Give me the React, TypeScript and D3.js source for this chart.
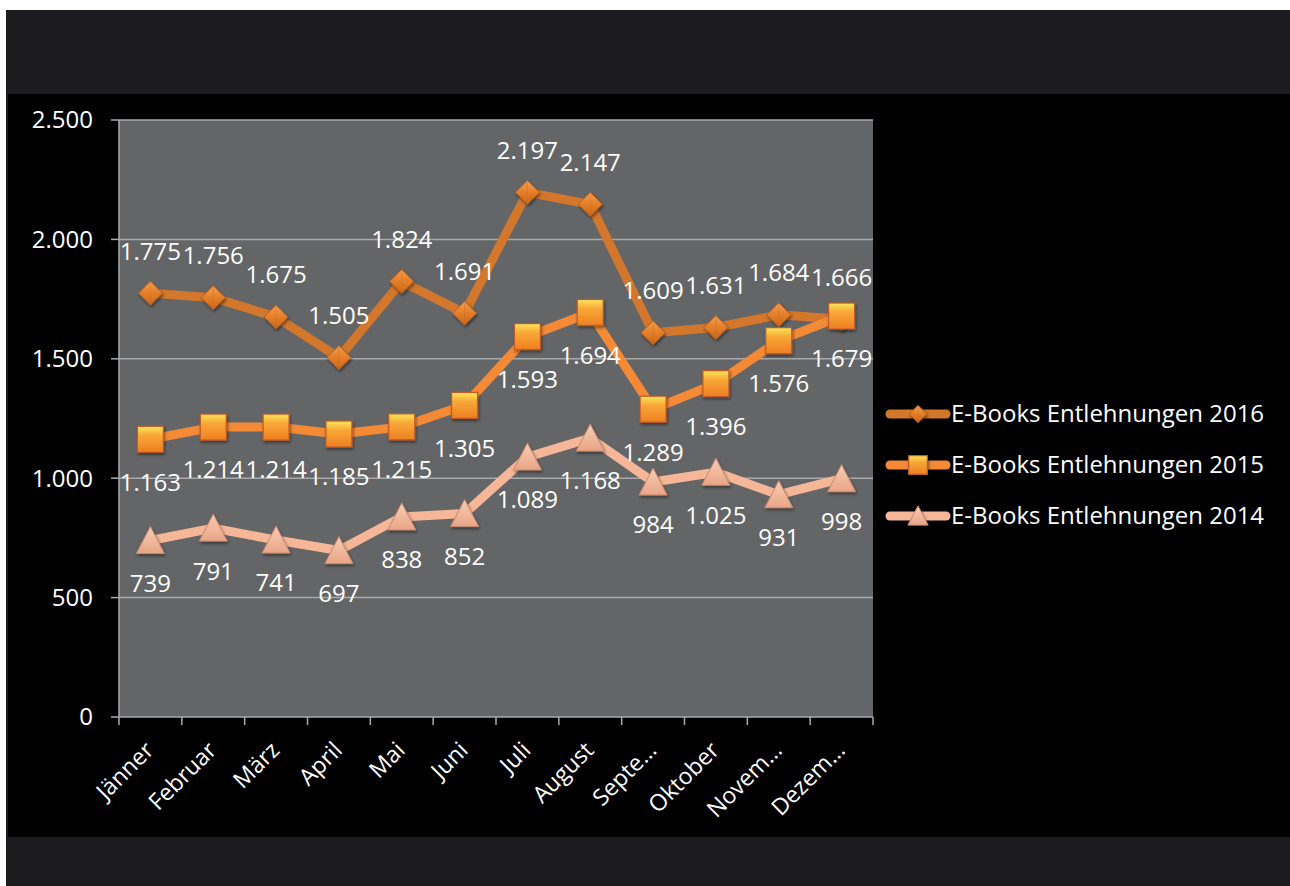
import React from "react";
import * as d3 from "d3";

const months = ["Jänner", "Februar", "März", "April", "Mai", "Juni", "Juli", "August", "Septe…", "Oktober", "Novem…", "Dezem…"];
const values2016 = [1775, 1756, 1675, 1505, 1824, 1691, 2197, 2147, 1609, 1631, 1684, 1666];
const values2015 = [1163, 1214, 1214, 1185, 1215, 1305, 1593, 1694, 1289, 1396, 1576, 1679];
const values2014 = [739, 791, 741, 697, 838, 852, 1089, 1168, 984, 1025, 931, 998];
const yTicks = [0, 500, 1000, 1500, 2000, 2500];
const seriesNames = ["E-Books Entlehnungen 2016", "E-Books Entlehnungen 2015", "E-Books Entlehnungen 2014"];

const W = 1290, H = 886;
const plot = { left: 119, right: 873, top: 120, bottom: 717 };
const FONT = "'Open Sans', 'DejaVu Sans', sans-serif";

const fmt = (v: number) => d3.format(",")(v).replace(/,/g, ".");

type Series = { name: string; values: number[]; color: string; marker: string; labelPos: "above" | "below" };

const series: Series[] = [
  { name: seriesNames[0], values: values2016, color: "#d2772b", marker: "diamond", labelPos: "above" },
  { name: seriesNames[1], values: values2015, color: "#f48a36", marker: "square", labelPos: "below" },
  { name: seriesNames[2], values: values2014, color: "#f5b797", marker: "triangle", labelPos: "below" },
];

function Marker({ kind, x, y, k = 1 }: { kind: string; x: number; y: number; k?: number }) {
  if (kind === "diamond") {
    const r = 12 * k;
    return (
      <g filter="url(#shadow)">
        <path d={`M${x},${y - r}L${x + r},${y}L${x},${y + r}L${x - r},${y}Z`} fill="url(#gDiamond)" stroke="#b85e1c" strokeWidth={1} />
        <path d={`M${x},${y - r}L${x},${y + r}`} stroke="#c76a22" strokeOpacity={0.4} strokeWidth={1} />
      </g>
    );
  }
  if (kind === "square") {
    const s = 13 * k;
    return (
      <g filter="url(#shadow)">
        <rect x={x - s} y={y - s} width={2 * s} height={2 * s} fill="url(#gSquare)" stroke="#c1592a" strokeWidth={1.2} />
      </g>
    );
  }
  const s = 14 * k;
  return (
    <g filter="url(#shadow)">
      <path d={`M${x},${y - s}L${x + s},${y + s - 1}L${x - s},${y + s - 1}Z`} fill="url(#gTri)" stroke="#c98a70" strokeWidth={1} />
    </g>
  );
}

export default function App() {
  const x = d3.scaleBand<string>().domain(months).range([plot.left, plot.right]).padding(0);
  const y = d3.scaleLinear().domain([0, 2500]).range([plot.bottom, plot.top]);
  const cx = (m: string) => (x(m) as number) + x.bandwidth() / 2;
  const line = d3.line<number>().x((_, i) => cx(months[i])).y((v) => y(v));
  const boundaries = d3.range(months.length + 1).map((i) => plot.left + i * x.bandwidth());

  return (
    <div style={{ position: "absolute", left: 0, top: 0 }}>
      <svg width={W} height={H} style={{ display: "block" }}>
        <defs>
          <linearGradient id="gDiamond" x1="0" y1="0" x2="0" y2="1">
            <stop offset="0" stopColor="#f3a050" />
            <stop offset="0.5" stopColor="#e47e28" />
            <stop offset="1" stopColor="#c9661c" />
          </linearGradient>
          <linearGradient id="gSquare" x1="0" y1="0" x2="0" y2="1">
            <stop offset="0" stopColor="#fbe55a" />
            <stop offset="0.35" stopColor="#f9a838" />
            <stop offset="1" stopColor="#ee7f22" />
          </linearGradient>
          <linearGradient id="gTri" x1="0" y1="0" x2="0" y2="1">
            <stop offset="0" stopColor="#f8cdb3" />
            <stop offset="1" stopColor="#e9a587" />
          </linearGradient>
          <filter id="shadow" x="-50%" y="-50%" width="200%" height="200%">
            <feDropShadow dx="1" dy="2" stdDeviation="1.5" floodColor="#000" floodOpacity="0.45" />
          </filter>
        </defs>
        <rect x={0} y={0} width={W} height={H} fill="#ffffff" />
        <rect x={6} y={10} width={W - 6} height={H - 10} fill="#1c1b1e" />
        <rect x={8} y={94} width={W - 8} height={837 - 94} fill="#000000" />

        <rect x={plot.left} y={plot.top} width={plot.right - plot.left} height={plot.bottom - plot.top} fill="#646567" />

        {yTicks.filter((t) => t > 0).map((t) => (
          <line key={t} x1={plot.left} x2={plot.right} y1={y(t)} y2={y(t)} stroke="#a9aaac" strokeWidth={1.5} />
        ))}
        <line x1={plot.left} x2={plot.left} y1={plot.top} y2={plot.bottom} stroke="#a9aaac" strokeWidth={1.5} />
        <line x1={plot.left} x2={plot.right} y1={plot.bottom} y2={plot.bottom} stroke="#a9aaac" strokeWidth={1.5} />
        {yTicks.map((t) => (
          <g key={t}>
            <line x1={plot.left - 8} x2={plot.left} y1={y(t)} y2={y(t)} stroke="#a9aaac" strokeWidth={1.5} />
            <text x={93} y={y(t)} dy="0.35em" textAnchor="end" fill="#ffffff" fontFamily={FONT} fontSize={24}>{fmt(t)}</text>
          </g>
        ))}
        {boundaries.map((b, i) => (
          <line key={i} x1={b} x2={b} y1={plot.bottom} y2={plot.bottom + 8} stroke="#a9aaac" strokeWidth={1.5} />
        ))}
        {months.map((m) => (
          <text key={m} transform={`translate(${cx(m) - 1},${plot.bottom + 29}) rotate(-45)`} textAnchor="end" dy="0.35em" fill="#ffffff" fontFamily={FONT} fontSize={23}>{m}</text>
        ))}

        {series.map((s) => (
          <g key={s.name}>
            <path d={line(s.values) || ""} fill="none" stroke={s.color} strokeWidth={9} strokeLinejoin="round" strokeLinecap="round" />
            {s.values.map((v, i) => (
              <Marker key={i} kind={s.marker} x={cx(months[i])} y={y(v)} />
            ))}
          </g>
        ))}
        {series.map((s) => (
          <g key={s.name + "l"}>
            {s.values.map((v, i) => (
              <text key={i} x={cx(months[i])} y={y(v) + (s.labelPos === "above" ? -42 : 43)} dy="0.35em" textAnchor="middle" fill="#ffffff" fontFamily={FONT} fontSize={24}>{fmt(v)}</text>
            ))}
          </g>
        ))}

        {series.map((s, i) => {
          const ly = 414 + i * 51;
          return (
            <g key={s.name + "lg"}>
              <line x1={890} x2={946} y1={ly} y2={ly} stroke={s.color} strokeWidth={9} strokeLinecap="round" />
              <Marker kind={s.marker} x={918} y={ly} k={0.72} />
              <text x={951} y={ly} dy="0.35em" fill="#ffffff" fontFamily={FONT} fontSize={24}>{s.name}</text>
            </g>
          );
        })}
      </svg>
    </div>
  );
}
